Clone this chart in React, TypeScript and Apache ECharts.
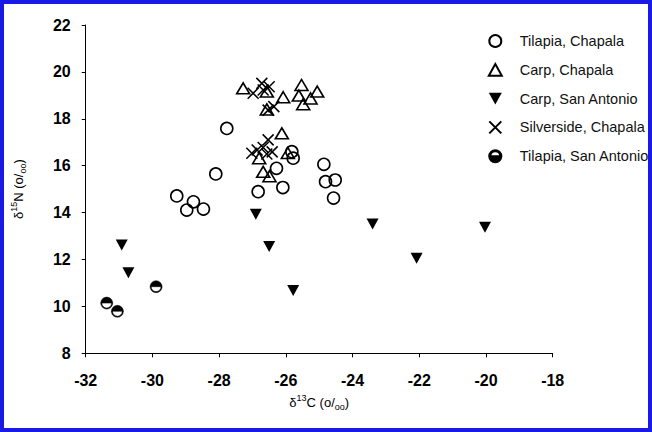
import React, { useEffect, useRef } from "react";
import * as echarts from "echarts";

const xTicks = [-32, -30, -28, -26, -24, -22, -20, -18];
const yTicks = [8, 10, 12, 14, 16, 18, 20, 22];

const seriesNames = [
  "Tilapia, Chapala",
  "Carp, Chapala",
  "Carp, San Antonio",
  "Silverside, Chapala",
  "Tilapia, San Antonio",
];

const tilapiaChapalaX = [-29.27, -28.77, -28.97, -28.47, -28.1, -27.77, -26.83, -26.28, -26.09, -25.82, -25.78, -24.86, -24.81, -24.52, -24.57];
const tilapiaChapalaY = [14.71, 14.46, 14.11, 14.15, 15.65, 17.59, 14.89, 15.89, 15.07, 16.6, 16.32, 16.06, 15.32, 15.39, 14.62];

const carpChapalaX = [-27.28, -26.57, -26.08, -25.53, -25.61, -25.26, -25.06, -25.48, -26.57, -26.12, -25.94, -26.8, -26.68, -26.49];
const carpChapalaY = [19.3, 19.16, 18.92, 19.44, 18.99, 18.87, 19.16, 18.62, 18.4, 17.38, 16.54, 16.32, 15.74, 15.55];

const carpSanAntonioX = [-30.92, -30.72, -26.9, -26.5, -25.78, -23.4, -22.08, -20.03];
const carpSanAntonioY = [12.62, 11.44, 13.93, 12.55, 10.68, 13.51, 12.05, 13.37];

const silversideChapalaX = [-26.72, -26.5, -26.98, -26.68, -26.36, -26.53, -26.53, -26.68, -26.86, -27.02, -26.57, -26.41];
const silversideChapalaY = [19.51, 19.37, 19.09, 19.23, 18.52, 18.37, 17.1, 16.78, 16.67, 16.53, 16.5, 16.59];

const tilapiaSanAntonioX = [-31.37, -31.05, -29.89];
const tilapiaSanAntonioY = [10.14, 9.79, 10.84];

const zip = (xs: number[], ys: number[]) => xs.map((x, i) => [x, ys[i]]);

const FONT = "'Liberation Sans', Arial, sans-serif";

const SYM_CROSS = "path://M0,0L10,10M10,0L0,10";
const SYM_DOWN = "path://M0,0L10,0L5,9Z";
const SYM_UP = "path://M5,0L10,9L0,9Z";
const SYM_HALF =
  "path://M-10,0A10,10 0 0,1 10,0Z M10,0A10,10 0 0,1 -10,0L-8.2,0A8.2,8.2 0 0,0 8.2,0Z";
const SYM_HALF_LEGEND =
  "path://M10,0A10,10 0 0,1 -10,0Z M-10,0A10,10 0 0,1 10,0L8.2,0A8.2,8.2 0 0,0 -8.2,0Z";

export default function App() {
  const ref = useRef<HTMLDivElement>(null);
  useEffect(() => {
    document.body.style.margin = "0";
    if (!ref.current) return;
    const chart = echarts.init(ref.current, null, { renderer: "svg" });
    const axisLabelStyle = {
      color: "#000",
      fontFamily: FONT,
      fontWeight: "bold" as const,
      fontSize: 16,
    };
    const nameRich = {
      n: { fontSize: 13, fontFamily: FONT, color: "#000", lineHeight: 18, verticalAlign: "middle" as const },
      sup: { fontSize: 9, fontFamily: FONT, color: "#000", lineHeight: 18, verticalAlign: "top" as const },
      sub: { fontSize: 9, fontFamily: FONT, color: "#000", lineHeight: 18, verticalAlign: "bottom" as const },
    };
    const legendIcons = ["circle", SYM_UP, SYM_DOWN, SYM_CROSS, SYM_HALF_LEGEND];
    chart.setOption({
      animation: false,
      backgroundColor: "#fff",
      grid: { left: 85.7, right: 99.3, top: 25, bottom: 78.7, containLabel: false },
      xAxis: {
        type: "value",
        min: xTicks[0],
        max: xTicks[xTicks.length - 1],
        interval: 2,
        splitLine: { show: false },
        axisLine: { show: true, onZero: false, lineStyle: { color: "#000", width: 1 } },
        axisTick: { show: true, length: 4, lineStyle: { color: "#000" } },
        axisLabel: { ...axisLabelStyle, margin: 19 },
        name: "{n|δ}{sup|13}{n|C (o/}{sub|oo}{n|)}",
        nameLocation: "middle",
        nameGap: 40,
        nameTextStyle: { rich: nameRich },
      },
      yAxis: {
        type: "value",
        min: yTicks[0],
        max: yTicks[yTicks.length - 1],
        interval: 2,
        splitLine: { show: false },
        axisLine: { show: true, onZero: false, lineStyle: { color: "#000", width: 1 } },
        axisTick: { show: true, length: 4, lineStyle: { color: "#000" } },
        axisLabel: { ...axisLabelStyle, margin: 15 },
        name: "{n|δ}{sup|15}{n|N (o/}{sub|oo}{n|)}",
        nameLocation: "middle",
        nameGap: 58,
        nameRotate: 90,
        nameTextStyle: { rich: nameRich },
      },
      legend: {
        orient: "vertical",
        left: 482.8,
        top: 28.5,
        itemWidth: 13,
        itemHeight: 12,
        itemGap: 13.8,
        textStyle: { fontFamily: FONT, fontSize: 14.5, color: "#111", padding: [0, 0, 0, 13] },
        itemStyle: { opacity: 1 },
        data: seriesNames.map((name, i) => ({ name, icon: legendIcons[i] })),
      },
      graphic: [
        {
          type: "rect",
          shape: { x: 2, y: 2, width: 648, height: 428 },
          style: { fill: "none", stroke: "#1a1ae6", lineWidth: 4 },
          z: 100,
        },
      ],
      series: [
        {
          name: seriesNames[0],
          type: "scatter",
          symbol: "circle",
          symbolSize: 12,
          itemStyle: { color: "transparent", borderColor: "#000", borderWidth: 1.6, opacity: 1 },
          data: zip(tilapiaChapalaX, tilapiaChapalaY),
        },
        {
          name: seriesNames[1],
          type: "scatter",
          symbol: SYM_UP,
          symbolSize: [13, 11],
          itemStyle: { color: "transparent", borderColor: "#000", borderWidth: 1.6, opacity: 1 },
          data: zip(carpChapalaX, carpChapalaY),
        },
        {
          name: seriesNames[2],
          type: "scatter",
          symbol: SYM_DOWN,
          symbolSize: [12, 11],
          itemStyle: { color: "#000", borderWidth: 0, opacity: 1 },
          data: zip(carpSanAntonioX, carpSanAntonioY),
        },
        {
          name: seriesNames[3],
          type: "scatter",
          symbol: SYM_CROSS,
          symbolSize: 11,
          itemStyle: { color: "transparent", borderColor: "#000", borderWidth: 1.5, opacity: 1 },
          data: zip(silversideChapalaX, silversideChapalaY),
        },
        {
          name: seriesNames[4],
          type: "scatter",
          symbol: SYM_HALF,
          symbolSize: 12,
          itemStyle: { color: "#000", borderColor: "#000", borderWidth: 0.5, opacity: 1 },
          data: zip(tilapiaSanAntonioX, tilapiaSanAntonioY),
        },
      ],
    });
    return () => chart.dispose();
  }, []);
  return <div ref={ref} style={{ width: 652, height: 432 }} />;
}
